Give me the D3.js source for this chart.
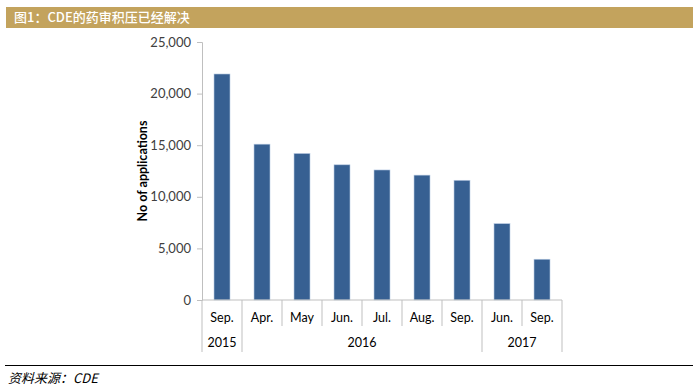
<!DOCTYPE html>
<html lang="zh">
<head>
<meta charset="utf-8">
<title>CDE backlog</title>
<script src="https://d3js.org/d3.v7.min.js"></script>
<style>
  body { margin: 0; background: #fff; }
  text { font-family: Lato, "Open Sans", sans-serif; }
</style>
</head>
<body>
<script>
var months = ["Sep.", "Apr.", "May", "Jun.", "Jul.", "Aug.", "Sep.", "Jun.", "Sep."];
var years = ["2015", "2016", "2016", "2016", "2016", "2016", "2016", "2017", "2017"];
var applications = [21900, 15100, 14200, 13100, 12600, 12100, 11600, 7400, 3950];
var yTicks = [0, 5000, 10000, 15000, 20000, 25000];

var width = 698, height = 390;
var margin = { left: 202, right: 136, top: 42, bottom: 90 };
var innerW = width - margin.left - margin.right;
var innerH = height - margin.top - margin.bottom;

var svg = d3.select("body").append("svg")
    .attr("width", width)
    .attr("height", height);

// title bar
svg.append("rect")
    .attr("x", 6).attr("y", 7)
    .attr("width", 687).attr("height", 21)
    .attr("fill", "#C3A35D");
svg.append("text")
    .attr("x", 14).attr("y", 22)
    .attr("fill", "#fff")
    .style("font-family", "'Noto Sans CJK SC', sans-serif")
    .style("font-size", "13px")
    .style("font-weight", "500")
    .text("图1：CDE的药审积压已经解决");

var g = svg.append("g")
    .attr("transform", `translate(${margin.left},${margin.top})`);

var idx = d3.range(months.length);
var x = d3.scaleBand().domain(idx).range([0, innerW]).paddingInner(0.6).paddingOuter(0.3);
var y = d3.scaleLinear().domain([0, 25000]).range([innerH, 0]);

// y axis
var yAxis = g.append("g")
    .call(d3.axisLeft(y).tickValues(yTicks).tickSize(5).tickPadding(6)
        .tickFormat(d3.format(",")));
yAxis.select(".domain").attr("stroke", "#bfbfbf");
yAxis.selectAll(".tick line").attr("stroke", "#bfbfbf");
yAxis.selectAll("text").attr("fill", "#404040").style("font-size", "13px");

g.append("text")
    .attr("transform", `translate(-55,${innerH / 2}) rotate(-90)`)
    .attr("text-anchor", "middle")
    .attr("fill", "#000")
    .style("font-size", "12.5px")
    .style("font-weight", "bold")
    .text("No of applications");

// bars
g.selectAll("rect.bar")
    .data(applications)
    .enter().append("rect")
    .attr("class", "bar")
    .attr("x", (d, i) => x(i))
    .attr("y", d => y(d))
    .attr("width", x.bandwidth())
    .attr("height", d => innerH - y(d))
    .attr("fill", "#376092")
    .attr("stroke", "#b9cbe3")
    .attr("stroke-width", 0.6);

// x axis (multi-level)
var step = innerW / months.length;
var xl = g.append("g").attr("transform", `translate(0,${innerH})`);
xl.append("line")
    .attr("x1", 0).attr("x2", innerW)
    .attr("stroke", "#bfbfbf");

var bounds = d3.range(months.length + 1);
xl.selectAll("line.sep")
    .data(bounds)
    .enter().append("line")
    .attr("class", "sep")
    .attr("x1", d => d * step).attr("x2", d => d * step)
    .attr("y1", 0)
    .attr("y2", d => (d === 0 || d === months.length || years[d] !== years[d - 1]) ? 52 : 26)
    .attr("stroke", "#bfbfbf");

xl.selectAll("text.month")
    .data(months)
    .enter().append("text")
    .attr("class", "month")
    .attr("x", (d, i) => x(i) + x.bandwidth() / 2)
    .attr("y", 22)
    .attr("text-anchor", "middle")
    .attr("fill", "#000")
    .style("font-size", "12.5px")
    .text(d => d);

var yearGroups = d3.groups(idx, i => years[i]);
xl.selectAll("text.year")
    .data(yearGroups)
    .enter().append("text")
    .attr("class", "year")
    .attr("x", d => (d3.min(d[1]) + d3.max(d[1]) + 1) / 2 * step)
    .attr("y", 47)
    .attr("text-anchor", "middle")
    .attr("fill", "#000")
    .style("font-size", "12.5px")
    .text(d => d[0]);

// footer
svg.append("line")
    .attr("x1", 5).attr("x2", 693)
    .attr("y1", 365.5).attr("y2", 365.5)
    .attr("stroke", "#000");
svg.append("text")
    .attr("x", 8).attr("y", 383)
    .attr("fill", "#000")
    .style("font-family", "'Noto Sans CJK SC', sans-serif")
    .style("font-size", "13px")
    .style("font-style", "italic")
    .text("资料来源：CDE");
</script>
</body>
</html>
